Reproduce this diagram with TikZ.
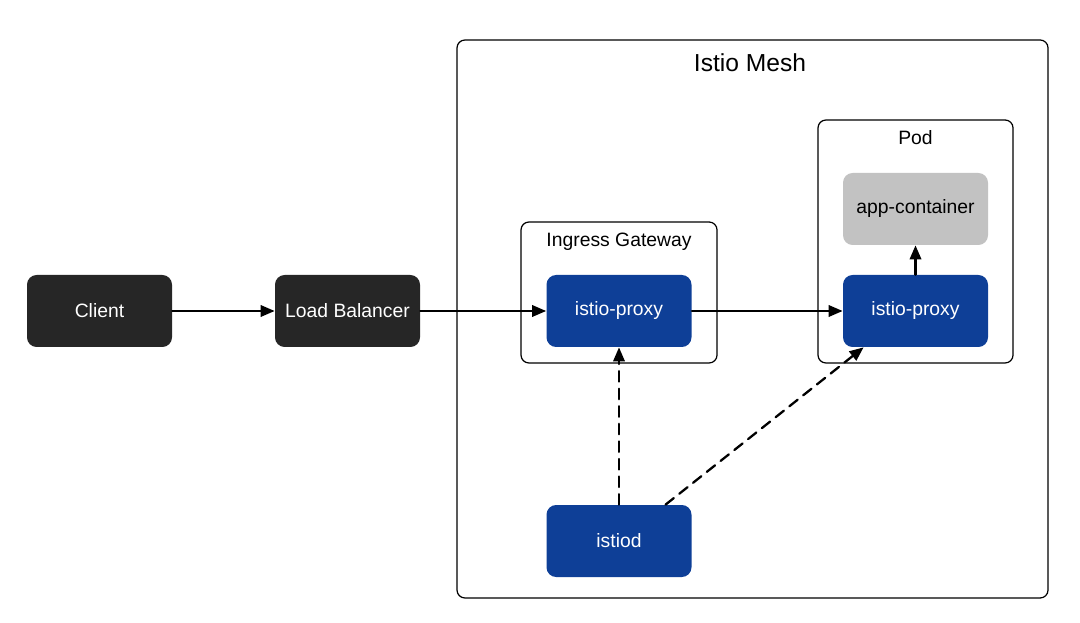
\documentclass[tikz,border=0pt]{standalone}
\usepackage{fontspec}
\setmainfont{Liberation Sans}
\usetikzlibrary{arrows.meta, positioning}
\definecolor{ink}{HTML}{000000}
\definecolor{wdark}{HTML}{262626}
\definecolor{wblue}{HTML}{0E3F97}
\definecolor{wgrey}{HTML}{C2C2C2}
\tikzset{
  el/.style={line cap=round, line join=round},
  blk/.style={rounded corners=5.5pt, minimum width=2.9cm, minimum height=1.44cm, font=\fontsize{11}{13}\selectfont, inner sep=0pt},
  darkblk/.style={blk, fill=wdark, text=white},
  blueblk/.style={blk, fill=wblue, text=white},
  greyblk/.style={blk, fill=wgrey, text=black},
  frame/.style={draw=ink, line width=0.7pt, rounded corners=4.5pt},
  flow/.style={draw=ink, line width=1.3pt, -{Triangle[length=8pt, width=6.5pt]}},
  ctrl/.style={flow, dash pattern=on 6pt off 4pt}
}

\begin{document}
\begin{tikzpicture}[el]
  \useasboundingbox (0,0) rectangle (21.6,12.44);
  % frames
  \draw[frame] (9.14,0.48) rectangle (20.96,11.64);
  \node (meshlbl) at (15.0,11.18) {\fontsize{14}{16}\selectfont Istio Mesh};
  \draw[frame] (10.42,5.18) rectangle (14.34,8.0);
  \node (gwlbl) at (12.38,7.6) {\fontsize{11}{13}\selectfont Ingress Gateway};
  \draw[frame] (16.36,5.18) rectangle (20.26,10.04);
  \node (podlbl) at (18.31,9.68) {\fontsize{11}{13}\selectfont Pod};
  % blocks
  \node[darkblk] (client) at (1.99,6.22) {Client};
  \node[darkblk] (lb) at (6.95,6.22) {Load Balancer};
  \node[blueblk] (gwproxy) at (12.38,6.22) {istio-proxy};
  \node[blueblk] (podproxy) at (18.31,6.22) {istio-proxy};
  \node[greyblk] (app) at (18.31,8.26) {app-container};
  \node[blueblk] (istiod) at (12.38,1.62) {istiod};
  % traffic
  \draw[flow] (client) -- (lb);
  \draw[flow] (lb) -- (gwproxy);
  \draw[flow] (gwproxy) -- (podproxy);
  \draw[flow] (podproxy) -- (app);
  % config
  \draw[ctrl] (istiod) -- (gwproxy);
  \draw[ctrl] (istiod.38) -- (podproxy.215);
\end{tikzpicture}
\end{document}
